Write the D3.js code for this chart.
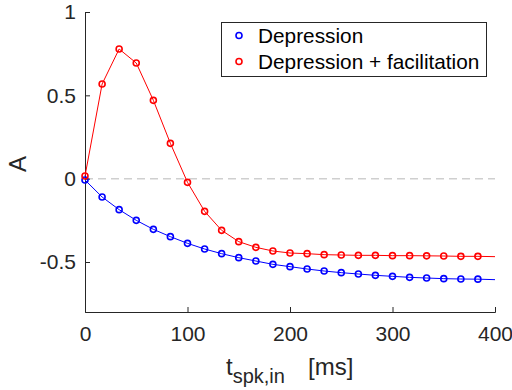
<!DOCTYPE html>
<html>
<head>
<meta charset="utf-8">
<script src="https://cdn.jsdelivr.net/npm/d3@7"></script>
<style>
  body { margin: 0; background: #fff; }
  svg { display: block; font-family: "Liberation Sans", Arial, sans-serif; }
</style>
</head>
<body>
<svg id="chart" width="512" height="390"></svg>
<script>
// spike times (ms) where markers sit
const tSpk = [0, 16.7, 33.3, 50, 66.7, 83.3, 100, 116.7, 133.3, 150, 166.7, 183.3,
              200, 216.7, 233.3, 250, 266.7, 283.3, 300, 316.7, 333.3, 350, 366.7, 383.3];
const depression = [-0.008, -0.11, -0.186, -0.25, -0.304, -0.348, -0.388, -0.422, -0.45, -0.474, -0.494, -0.514,
                    -0.528, -0.542, -0.554, -0.564, -0.572, -0.58, -0.586, -0.592, -0.596, -0.6, -0.602, -0.603];
const depFac = [0.016, 0.568, 0.778, 0.694, 0.47, 0.212, -0.022, -0.196, -0.31, -0.378, -0.412, -0.434,
                -0.446, -0.45, -0.456, -0.458, -0.46, -0.46, -0.462, -0.462, -0.463, -0.464, -0.466, -0.466];
// value of each curve at the right edge (t = 400 ms)
const tEnd = 400;
const depressionEnd = -0.606;
const depFacEnd = -0.468;

const xTicks = [0, 100, 200, 300, 400];
const yTicks = [-0.5, 0, 0.5, 1];
const seriesNames = ["Depression", "Depression + facilitation"];
const seriesColors = ["#0000ff", "#ff0000"];

const svg = d3.select("#chart");
const x = d3.scaleLinear().domain([0, 400]).range([85, 495]);
const y = d3.scaleLinear().domain([-0.8, 1]).range([312, 12]);
const axisColor = "#262626";

// zero reference line
svg.append("line")
    .attr("x1", x(0)).attr("x2", x(400))
    .attr("y1", y(0)).attr("y2", y(0))
    .attr("stroke", "#cfcfcf").attr("stroke-width", 1.5)
    .attr("stroke-dasharray", "8,5");

// axes (MATLAB-like, ticks inward)
const xAxis = svg.append("g").attr("transform", `translate(0,${y(-0.8)})`)
    .call(d3.axisBottom(x).tickValues(xTicks).tickSize(-5).tickPadding(14).tickFormat(d3.format("d")));
const yAxis = svg.append("g").attr("transform", `translate(${x(0)},0)`)
    .call(d3.axisLeft(y).tickValues(yTicks).tickSize(-5).tickPadding(9).tickFormat(d => d === 0 ? "0" : String(d)));
[xAxis, yAxis].forEach(g => {
    g.select(".domain").attr("stroke", axisColor).attr("stroke-width", 1);
    g.selectAll(".tick line").attr("stroke", axisColor);
    g.selectAll(".tick text").attr("fill", axisColor).attr("font-size", 21)
        .attr("font-family", "Liberation Sans, Arial, sans-serif");
});

// curves + markers
const series = [
    { vals: depression, end: depressionEnd },
    { vals: depFac, end: depFacEnd }
];
const line = d3.line().x(d => x(d[0])).y(d => y(d[1]));
series.forEach((s, i) => {
    const pts = tSpk.map((t, k) => [t, s.vals[k]]).concat([[tEnd, s.end]]);
    svg.append("path").datum(pts)
        .attr("d", line)
        .attr("fill", "none")
        .attr("stroke", seriesColors[i])
        .attr("stroke-width", 1);
    svg.append("g").selectAll("circle")
        .data(tSpk.map((t, k) => [t, s.vals[k]]))
        .join("circle")
        .attr("cx", d => x(d[0]))
        .attr("cy", d => y(d[1]))
        .attr("r", 3)
        .attr("fill", "none")
        .attr("stroke", seriesColors[i])
        .attr("stroke-width", 1.6);
});

// legend
const legend = svg.append("g");
legend.append("rect")
    .attr("x", 221.5).attr("y", 22.5).attr("width", 265).attr("height", 54)
    .attr("fill", "#fff").attr("stroke", axisColor).attr("stroke-width", 1);
seriesNames.forEach((name, i) => {
    const ly = 35.5 + i * 26;
    legend.append("circle").attr("cx", 239).attr("cy", ly).attr("r", 3)
        .attr("fill", "none").attr("stroke", seriesColors[i]).attr("stroke-width", 1.6);
    legend.append("text").attr("x", 258).attr("y", ly + 7.5)
        .attr("font-size", 20.8).attr("fill", "#000").text(name);
});

// axis labels
svg.append("text")
    .attr("transform", `translate(26,164) rotate(-90)`)
    .attr("text-anchor", "middle")
    .attr("font-size", 24).attr("fill", axisColor)
    .text("A");
const xl = svg.append("text")
    .attr("x", 226).attr("y", 375)
    .attr("font-size", 24).attr("fill", axisColor);
xl.append("tspan").text("t");
xl.append("tspan").attr("font-size", 20).attr("dy", 8).text("spk,in");
xl.append("tspan").attr("x", 308).attr("dy", -8).text("[ms]");
</script>
</body>
</html>
